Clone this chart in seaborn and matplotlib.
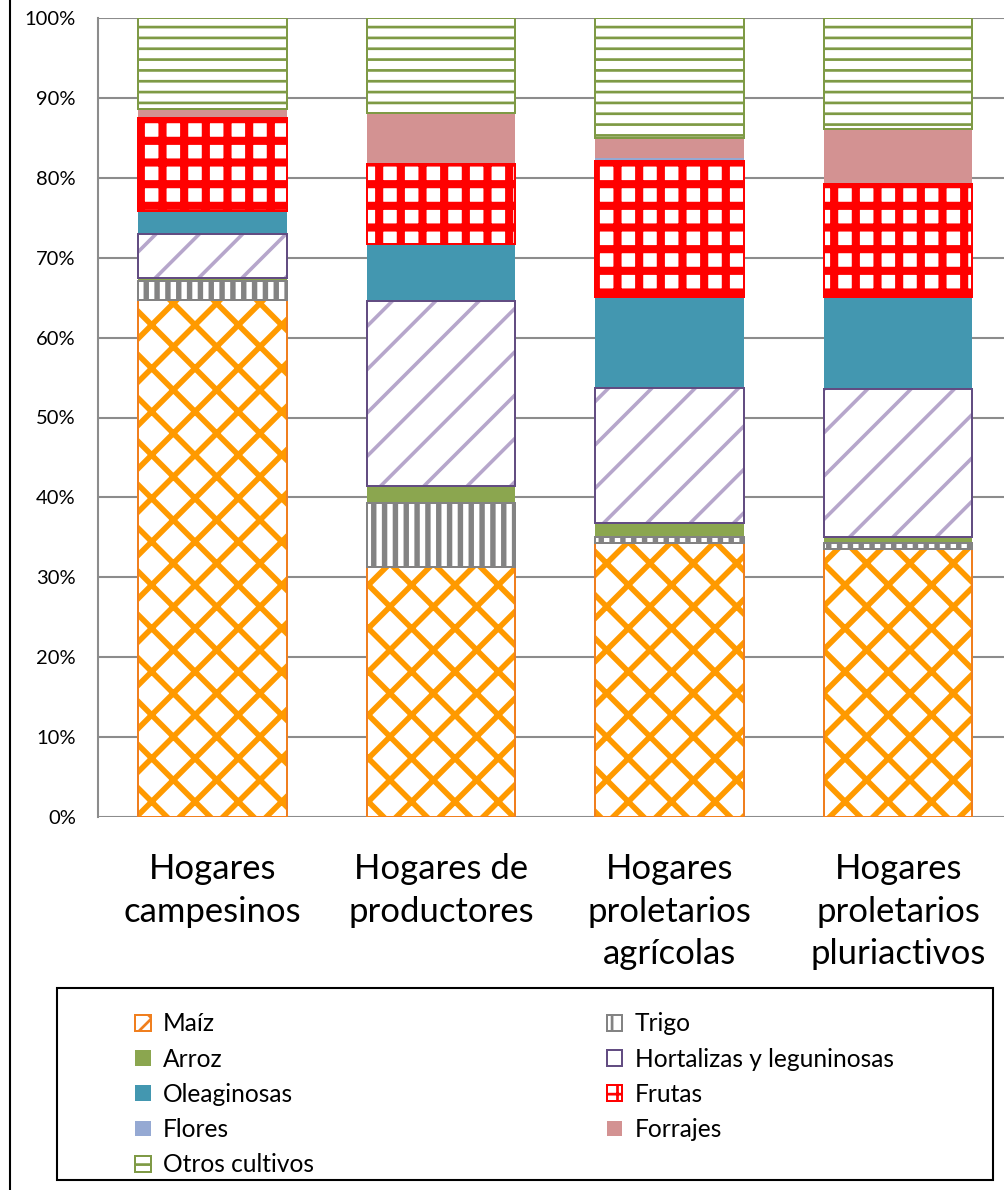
import numpy as np
import matplotlib
matplotlib.use("Agg")
import matplotlib.pyplot as plt
import seaborn as sns
from matplotlib.patches import Patch, Rectangle
from matplotlib.lines import Line2D
from matplotlib.ticker import PercentFormatter

# datos (% de la superficie por tipo de hogar)
hogares = ["Hogares\ncampesinos", "Hogares de\nproductores",
           "Hogares\nproletarios\nagrícolas", "Hogares\nproletarios\npluriactivos"]
maiz = [64.7, 31.3, 34.3, 33.5]
trigo = [2.4, 8.0, 0.7, 0.8]
arroz = [0.3, 2.1, 1.8, 0.7]
hortalizas = [5.6, 23.2, 16.9, 18.6]
oleaginosas = [2.8, 7.1, 11.4, 11.5]
frutas = [11.7, 10.0, 17.0, 14.1]
flores = [0.0, 0.2, 0.4, 0.2]
forrajes = [1.1, 6.2, 2.5, 6.7]
otros = [11.4, 11.9, 15.0, 13.9]

cultivos = ["Maíz", "Trigo", "Arroz", "Hortalizas y leguninosas", "Oleaginosas",
            "Frutas", "Flores", "Forrajes", "Otros cultivos"]
valores = [maiz, trigo, arroz, hortalizas, oleaginosas, frutas, flores, forrajes, otros]

# (relleno, color de trama, borde, trama, grosor de trama)
estilos = {
    "Maíz": ("white", "#FF9A00", "#F07F1E", "x", 3.1),
    "Trigo": ("white", "#838383", "#838383", "||", 3.0),
    "Arroz": ("#8BA64F", None, None, None, 0),
    "Hortalizas y leguninosas": ("white", "#B6A6CB", "#624C82", "/", 2.0),
    "Oleaginosas": ("#4397B0", None, None, None, 0),
    "Frutas": ("white", "#FF0000", "#FF0000", "+", 4.5),
    "Flores": ("#95A9D3", None, None, None, 0),
    "Forrajes": ("#D39292", None, None, None, 0),
    "Otros cultivos": ("white", "#7E9A45", "#7E9A45", "--", 1.5),
}

plt.rcParams["font.family"] = ["Lato", "DejaVu Sans"]

DPI = 130
fig = plt.figure(figsize=(1004 / DPI, 1190 / DPI), dpi=DPI)
ax = fig.add_axes([98 / 1004, 373 / 1190, 906 / 1004, 799 / 1190])

base = np.zeros(len(hogares))
for nombre, vals in zip(cultivos, valores):
    cara, trama_col, borde, trama, grosor = estilos[nombre]
    if trama:
        plt.rcParams["hatch.linewidth"] = grosor
        n0 = len(ax.patches)
        sns.barplot(x=hogares, y=vals, bottom=base, color=cara, saturation=1,
                    edgecolor=trama_col, linewidth=0, hatch=trama, width=0.65,
                    errorbar=None, ax=ax, zorder=2)
        for p in ax.patches[n0:]:
            if hasattr(p, "set_hatch_linewidth"):
                p.set_hatch_linewidth(grosor)
        sns.barplot(x=hogares, y=vals, bottom=base, color=borde, fill=False,
                    linewidth=1.1, width=0.65, errorbar=None, ax=ax, zorder=3)
    else:
        sns.barplot(x=hogares, y=vals, bottom=base, color=cara, saturation=1,
                    linewidth=0, width=0.65, errorbar=None, ax=ax, zorder=2)
    base = base + np.array(vals)

ax.set_xlim(-0.5, 3.463)
ax.set_ylim(0, 100)
ax.set_yticks(range(0, 101, 10))
ax.yaxis.set_major_formatter(PercentFormatter(decimals=0))
ax.set_xlabel("")
ax.set_ylabel("")
ax.grid(axis="y", color="#8C8C8C", linewidth=1.15, zorder=0)
ax.set_axisbelow(True)
for s in ["top", "right", "bottom"]:
    ax.spines[s].set_visible(False)
ax.spines["left"].set_color("#8C8C8C")
ax.spines["left"].set_linewidth(1.15)
ax.tick_params(axis="y", length=0, pad=12.3, labelsize=11.15, labelcolor="black")
ax.tick_params(axis="x", length=0, pad=20, labelsize=19.2, labelcolor="black")
for t in ax.get_xticklabels():
    t.set_linespacing(1.4)

# borde del área del gráfico
fig.add_artist(Line2D([10 / 1004, 10 / 1004], [0, 1], color="black", linewidth=1.15))

# leyenda
fig.add_artist(Rectangle((57 / 1004, 10 / 1190), 936 / 1004, 192 / 1190,
                         transform=fig.transFigure, fill=False,
                         edgecolor="black", linewidth=1.15))
handles = {}
for nombre in cultivos:
    cara, trama_col, borde, trama, grosor = estilos[nombre]
    if trama:
        h = Patch(facecolor=cara, edgecolor=borde, hatch=trama, linewidth=1.1)
        if hasattr(h, "set_hatch_linewidth"):
            h.set_hatch_linewidth(min(grosor, 2.0))
        handles[nombre] = h
    else:
        handles[nombre] = Patch(facecolor=cara, edgecolor="none")
orden = ["Maíz", "Arroz", "Oleaginosas", "Flores", "Otros cultivos",
         "Trigo", "Hortalizas y leguninosas", "Frutas", "Forrajes"]
fig.legend([handles[n] for n in orden], orden, ncol=2, loc="upper left",
           bbox_to_anchor=(123 / 1004, 1 - 1000 / 1190), frameon=False,
           borderpad=0, fontsize=13.6, handlelength=0.62, handleheight=0.62,
           handletextpad=0.5, labelspacing=0.5, columnspacing=11.95)

fig.savefig("out.png", dpi=DPI)
plt.close(fig)
